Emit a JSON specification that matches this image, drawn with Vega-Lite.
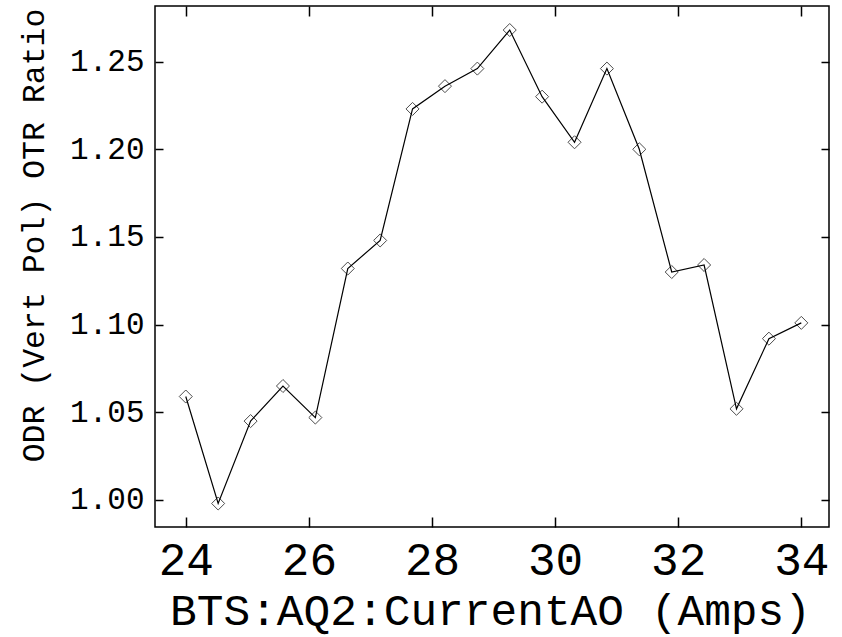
{
  "$schema": "https://vega.github.io/schema/vega-lite/v6.json",
  "autosize": "none",
  "width": 674,
  "height": 521,
  "padding": {"left": 155, "top": 6, "right": 13, "bottom": 110},
  "background": "white",
  "config": {
    "view": {"stroke": "black", "strokeWidth": 1.5},
    "axis": {"domain": false, "grid": false, "tickColor": "black", "labelColor": "black", "titleColor": "black", "labelFont": "Liberation Mono", "titleFont": "Liberation Mono", "titleFontWeight": "normal", "tickWidth": 1.5}
  },
  "data": {
    "values": [
      {"current": 24.0, "ratio": 1.059},
      {"current": 24.526, "ratio": 0.998},
      {"current": 25.053, "ratio": 1.045},
      {"current": 25.579, "ratio": 1.065},
      {"current": 26.105, "ratio": 1.047},
      {"current": 26.632, "ratio": 1.132},
      {"current": 27.158, "ratio": 1.148},
      {"current": 27.684, "ratio": 1.223},
      {"current": 28.211, "ratio": 1.236},
      {"current": 28.737, "ratio": 1.246},
      {"current": 29.263, "ratio": 1.268},
      {"current": 29.789, "ratio": 1.230},
      {"current": 30.316, "ratio": 1.204},
      {"current": 30.842, "ratio": 1.246},
      {"current": 31.368, "ratio": 1.200},
      {"current": 31.895, "ratio": 1.130},
      {"current": 32.421, "ratio": 1.134},
      {"current": 32.947, "ratio": 1.052},
      {"current": 33.474, "ratio": 1.092},
      {"current": 34.0, "ratio": 1.101}
    ]
  },
  "layer": [
    {
      "mark": {"type": "line", "color": "black", "strokeWidth": 1.2},
      "encoding": {
        "x": {"field": "current", "type": "quantitative",
          "scale": {"domain": [23.5, 34.45], "nice": false, "zero": false},
          "axis": {"title": "BTS:AQ2:CurrentAO (Amps)", "values": [24, 26, 28, 30, 32, 34], "tickSize": -10, "labelFontSize": 46, "labelPadding": 21, "titleFontSize": 44.5, "titleX": 335, "titleY": 84, "titleBaseline": "middle", "titleAlign": "center", "format": "d"}},
        "y": {"field": "ratio", "type": "quantitative",
          "scale": {"domain": [0.9846, 1.2817], "nice": false, "zero": false},
          "axis": {"title": "ODR (Vert Pol) OTR Ratio", "values": [1.0, 1.05, 1.1, 1.15, 1.2, 1.25], "format": ".2f", "tickSize": -8, "labelFontSize": 31, "labelPadding": 19, "titleFontSize": 31.5, "titleAngle": -90, "titleX": -121, "titleY": 229, "titleAlign": "center", "titleBaseline": "middle"}}
      }
    },
    {
      "mark": {"type": "point", "shape": "diamond", "filled": false, "color": "black", "size": 170, "strokeWidth": 1},
      "encoding": {
        "x": {"field": "current", "type": "quantitative",
          "axis": {"orient": "top", "title": null, "labels": false, "values": [24, 26, 28, 30, 32, 34], "tickSize": -10}},
        "y": {"field": "ratio", "type": "quantitative",
          "axis": {"orient": "right", "title": null, "labels": false, "values": [1.0, 1.05, 1.1, 1.15, 1.2, 1.25], "tickSize": -8}}
      }
    }
  ],
  "resolve": {"axis": {"x": "independent", "y": "independent"}}
}
